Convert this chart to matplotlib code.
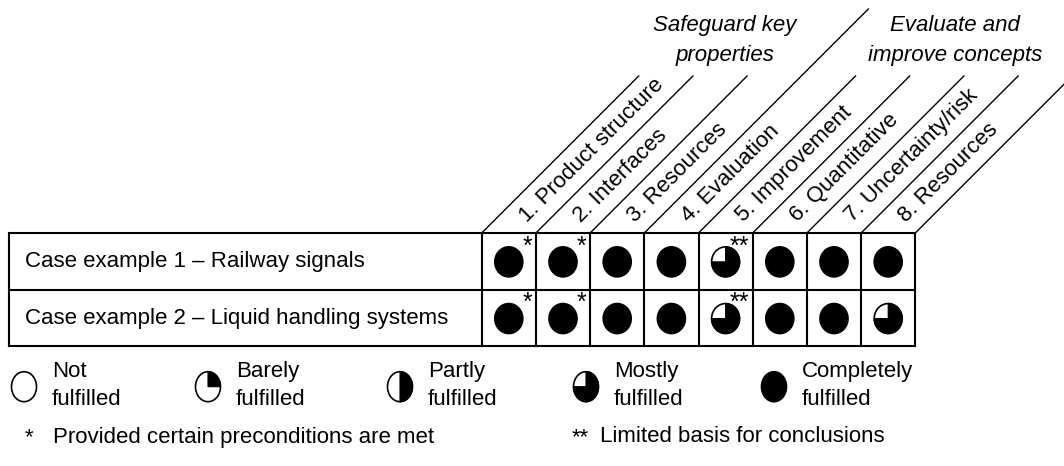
import numpy as np
import matplotlib.pyplot as plt
from matplotlib.patches import Ellipse, Polygon

plt.rcParams['font.family'] = ['Liberation Sans', 'DejaVu Sans']

criteria = ['1. Product structure', '2. Interfaces', '3. Resources', '4. Evaluation',
            '5. Improvement', '6. Quantitative', '7. Uncertainty/risk', '8. Resources']
groups = ['Safeguard key\nproperties', 'Evaluate and\nimprove concepts']
cases = ['Case example 1 – Railway signals', 'Case example 2 – Liquid handling systems']
# degree of fulfilment per cell (0, 0.25, 0.5, 0.75, 1)
fulfil_1 = [1, 1, 1, 1, 0.75, 1, 1, 1]
fulfil_2 = [1, 1, 1, 1, 0.75, 1, 1, 0.75]
notes_1 = ['*', '*', '', '', '**', '', '', '']
notes_2 = ['*', '*', '', '', '**', '', '', '']
legend_levels = [0, 0.25, 0.5, 0.75, 1]
legend_labels = ['Not\nfulfilled', 'Barely\nfulfilled', 'Partly\nfulfilled',
                 'Mostly\nfulfilled', 'Completely\nfulfilled']
note_marks = ['*', '**']
note_texts = ['Provided certain preconditions are met', 'Limited basis for conclusions']

FS = 16


def harvey(ax, cx, cy, frac, w, h):
    """ Harvey ball, filled clockwise from 12 o'clock """
    if frac >= 1:
        ax.add_patch(Ellipse((cx, cy), w, h, fc='black', ec='black', lw=1.2))
        return
    ax.add_patch(Ellipse((cx, cy), w, h, fc='white', ec='black', lw=1.2))
    if frac > 0:
        t = np.linspace(np.pi / 2 - 2 * np.pi * frac, np.pi / 2, 80)
        pts = np.column_stack([cx + w / 2 * np.cos(t), cy - h / 2 * np.sin(t)])
        pts = np.vstack([[cx, cy], pts])
        ax.add_patch(Polygon(pts, closed=True, fc='black', ec='black', lw=0.8))


fig = plt.figure(figsize=(10.64, 4.66), dpi=100)
ax = fig.add_axes([0, 0, 1, 1])
ax.set_xlim(0, 1064)
ax.set_ylim(466, 0)
ax.axis('off')

# table geometry (pixels)
left, label_w, cell_w = 9.3, 472.4, 54.2
top, row_h = 233, 56.7
n = len(criteria)
col_x = left + label_w + cell_w * np.arange(n + 1)
right = col_x[-1]
bottom = top + row_h * len(cases)

lw_tab = 1.5
ax.plot([left, right], [top, top], color='black', lw=lw_tab)
for r in range(1, len(cases) + 1):
    ax.plot([left, right], [top + r * row_h] * 2, color='black', lw=lw_tab)
ax.plot([left, left], [top, bottom], color='black', lw=lw_tab)
for x in col_x:
    ax.plot([x, x], [top, bottom], color='black', lw=lw_tab)

# slanted header lines
short_len, long_len = 157, 224
for i, x in enumerate(col_x):
    d = long_len if i == 3 else short_len
    ax.plot([x, x + d], [top, top - d], color='black', lw=1.0, clip_on=True)

# slanted criteria labels
s = 20
for i, lab in enumerate(criteria):
    cx = (col_x[i] + col_x[i + 1]) / 2
    ax.text(cx + s / np.sqrt(2), top - s / np.sqrt(2), lab, fontsize=FS,
            rotation=45, rotation_mode='anchor', ha='left', va='center')

# group headings
ax.text(725, 15, groups[0], fontsize=FS, style='italic', ha='center', va='top',
        linespacing=1.55)
ax.text(955, 15, groups[1], fontsize=FS, style='italic', ha='center', va='top',
        linespacing=1.55)

# rows
for r, (case, vals, notes) in enumerate(zip(cases, [fulfil_1, fulfil_2], [notes_1, notes_2])):
    cy = top + (r + 0.5) * row_h
    ax.text(left + 16, cy, case, fontsize=FS, ha='left', va='center')
    for i, (v, nt) in enumerate(zip(vals, notes)):
        cx = (col_x[i] + col_x[i + 1]) / 2
        harvey(ax, cx, cy + 0.5, v, 28, 30)
        if nt:
            ax.text(col_x[i + 1] - 4, top + r * row_h + 1.5, nt, fontsize=18,
                    ha='right', va='top')

# legend
leg_x = [24, 208, 400, 586, 774]
leg_y = 386.7
for x, lv, lab in zip(leg_x, legend_levels, legend_labels):
    harvey(ax, x, leg_y, lv, 25, 30)
    ax.text(x + 28, leg_y - 1, lab, fontsize=FS, ha='left', va='center', linespacing=1.42)

# footnotes
for x, mk, txt in zip([25, 572], note_marks, note_texts):
    ax.text(x, 438, mk, fontsize=FS, ha='left', va='center')
    ax.text(x + 28, 437, txt, fontsize=FS, ha='left', va='center')

fig.savefig('out.png', dpi=100)
